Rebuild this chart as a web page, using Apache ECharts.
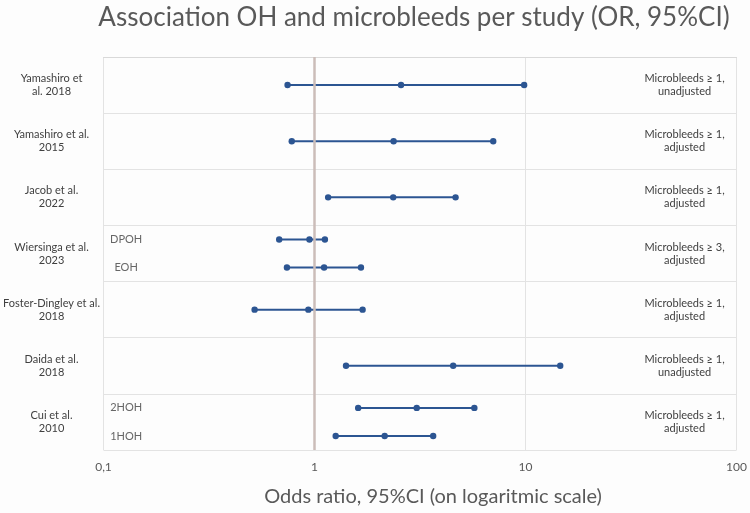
<!DOCTYPE html>
<html>
<head>
<meta charset="utf-8">
<script src="https://cdn.jsdelivr.net/npm/echarts@6/dist/echarts.min.js"></script>
<style>
  html, body { margin: 0; padding: 0; background: #fdfdfd; }
  #chart { width: 750px; height: 513px; }
</style>
</head>
<body>
<div id="chart"></div>
<script>
// studies, top to bottom
var studies = [
  'Yamashiro et\nal. 2018',
  'Yamashiro et al.\n2015',
  'Jacob et al.\n2022',
  'Wiersinga et al.\n2023',
  'Foster-Dingley et al.\n2018',
  'Daida et al.\n2018',
  'Cui et al.\n2010'
];
var outcomes = [
  'Microbleeds ≥ 1,\nunadjusted',
  'Microbleeds ≥ 1,\nadjusted',
  'Microbleeds ≥ 1,\nadjusted',
  'Microbleeds ≥ 3,\nadjusted',
  'Microbleeds ≥ 1,\nadjusted',
  'Microbleeds ≥ 1,\nunadjusted',
  'Microbleeds ≥ 1,\nadjusted'
];
// one entry per estimate: row position (0.5 = centre of first row)
var rowPos   = [0.5,  1.5,  2.5,  3.25, 3.75, 4.5,  5.5,  6.25, 6.75];
var orLow    = [0.745, 0.78, 1.16, 0.68, 0.74, 0.52, 1.41, 1.61, 1.26];
var orMid    = [2.57, 2.37, 2.36, 0.946, 1.11, 0.935, 4.54, 3.05, 2.15];
var orHigh   = [9.85, 7.03, 4.66, 1.12, 1.66, 1.69, 14.6, 5.72, 3.65];
var subLabels = ['', '', '', 'DPOH', 'EOH', '', '', '2HOH', '1HOH'];
var subLabelX = 0.128;
var xTicks = [0.1, 1, 10, 100];

var chart = echarts.init(document.getElementById('chart'));

var ciData = [];
var subData = [];
for (var i = 0; i < rowPos.length; i++) {
  ciData.push([orLow[i], orMid[i], orHigh[i], rowPos[i]]);
  if (subLabels[i]) subData.push([subLabelX, rowPos[i], subLabels[i]]);
}

var textColor = '#404040';
var font = 'Lato';

var option = {
  backgroundColor: '#fdfdfd',
  animation: false,
  title: {
    text: 'Association OH and microbleeds per study (OR, 95%CI)',
    left: 409,
    textAlign: 'center',
    top: 0,
    textStyle: { fontFamily: font, fontSize: 26, fontWeight: 'normal', color: '#595959' }
  },
  grid: { left: 99, right: 12, top: 57, bottom: 63 },
  xAxis: {
    type: 'log',
    logBase: 10,
    min: xTicks[0],
    max: xTicks[xTicks.length - 1],
    name: 'Odds ratio, 95%CI (on logaritmic scale)',
    nameLocation: 'middle',
    nameGap: 37,
    nameTextStyle: { fontFamily: font, fontSize: 20, color: '#595959', padding: [0, 0, 0, 26] },
    axisLine: { show: true, lineStyle: { color: '#d9d9d9', width: 1 } },
    axisTick: { show: false },
    axisLabel: {
      margin: 11,
      fontFamily: font,
      fontSize: 12,
      color: '#595959',
      formatter: function (v) { return String(v).replace('.', ','); }
    },
    splitLine: { show: true, lineStyle: { color: '#e3e3e3', width: 1 } }
  },
  yAxis: [
    {
      type: 'value',
      min: 0,
      max: studies.length,
      interval: 1,
      inverse: true,
      axisLine: { show: false },
      axisTick: { show: false },
      axisLabel: { show: false },
      splitLine: { show: true, lineStyle: { color: '#e3e3e3', width: 1 } }
    },
    {
      type: 'category',
      data: studies,
      inverse: true,
      position: 'left',
      axisLine: { show: false },
      axisTick: { show: false },
      splitLine: { show: false },
      axisLabel: {
        align: 'center',
        margin: 52,
        lineHeight: 13,
        fontFamily: font,
        fontSize: 11,
        color: textColor
      }
    },
    {
      type: 'category',
      data: outcomes,
      inverse: true,
      position: 'right',
      axisLine: { show: false },
      axisTick: { show: false },
      splitLine: { show: false },
      axisLabel: {
        inside: true,
        align: 'center',
        margin: 52,
        lineHeight: 13,
        fontFamily: font,
        fontSize: 11,
        color: textColor
      }
    }
  ],
  series: [
    {
      // reference line at OR = 1
      type: 'scatter',
      data: [],
      z: 1,
      markLine: {
        silent: true,
        symbol: 'none',
        label: { show: false },
        lineStyle: { color: '#cbbdb9', width: 2.5, type: 'solid' },
        data: [{ xAxis: 1 }]
      }
    },
    {
      type: 'custom',
      z: 3,
      data: ciData,
      encode: { x: [0, 1, 2], y: 3 },
      renderItem: function (params, api) {
        var y = api.value(3);
        var lo = api.coord([api.value(0), y]);
        var mid = api.coord([api.value(1), y]);
        var hi = api.coord([api.value(2), y]);
        var col = '#2c5592';
        var r = 3.2;
        return {
          type: 'group',
          children: [
            { type: 'line', shape: { x1: lo[0], y1: lo[1], x2: hi[0], y2: hi[1] },
              style: { stroke: col, lineWidth: 2 } },
            { type: 'circle', shape: { cx: lo[0], cy: lo[1], r: r }, style: { fill: col } },
            { type: 'circle', shape: { cx: mid[0], cy: mid[1], r: r }, style: { fill: col } },
            { type: 'circle', shape: { cx: hi[0], cy: hi[1], r: r }, style: { fill: col } }
          ]
        };
      }
    },
    {
      type: 'scatter',
      data: subData,
      symbolSize: 0,
      z: 3,
      label: {
        show: true,
        position: 'inside',
        formatter: function (p) { return p.value[2]; },
        fontFamily: font,
        fontSize: 11,
        color: textColor
      }
    }
  ]
};

chart.setOption(option);
</script>
</body>
</html>
